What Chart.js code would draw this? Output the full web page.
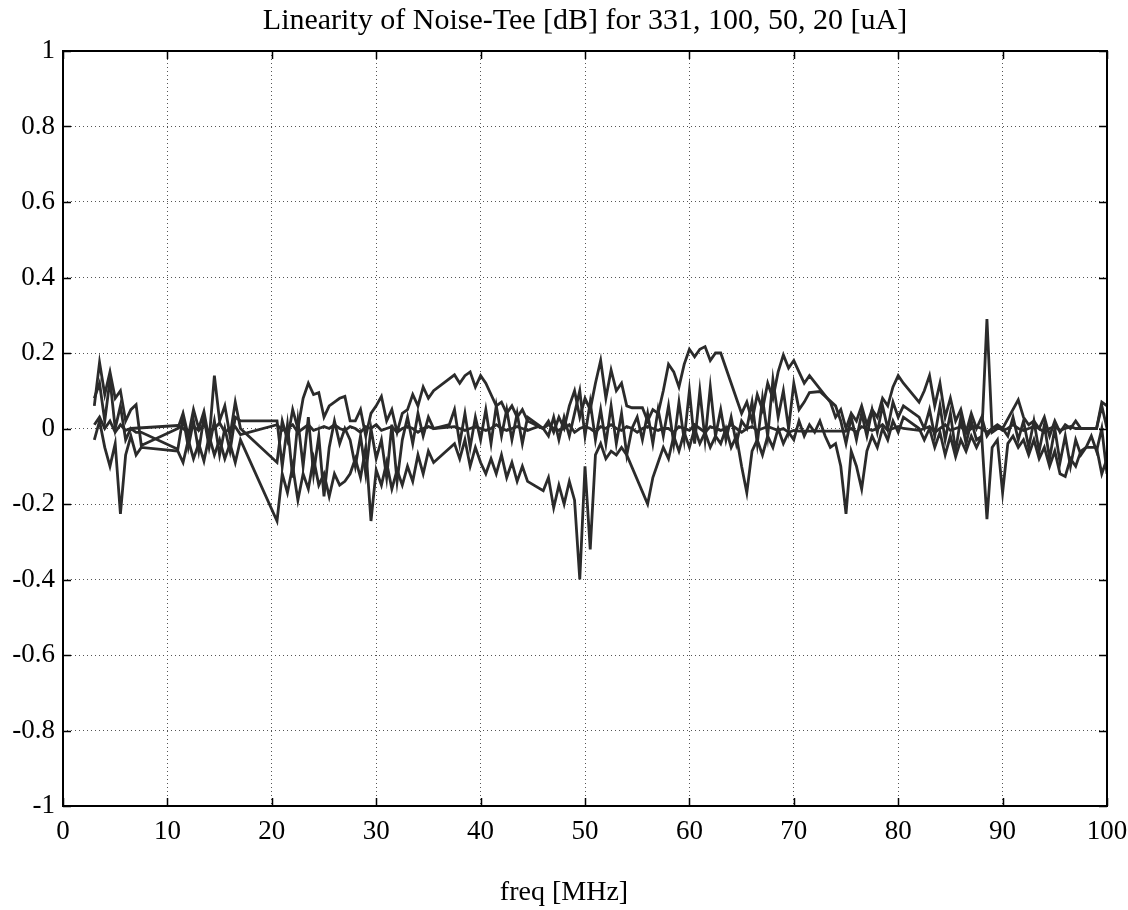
<!DOCTYPE html>
<html>
<head>
<meta charset="utf-8">
<title>Linearity of Noise-Tee</title>
<script src="https://cdn.jsdelivr.net/npm/chart.js@4/dist/chart.umd.min.js"></script>
<style>
  html, body { margin: 0; padding: 0; background: #fff; }
  #wrap { width: 1128px; height: 910px; position: relative; }
</style>
</head>
<body>
<div id="wrap"><canvas id="myChart"></canvas></div>
<script>
const titleText = 'Linearity of Noise-Tee [dB] for 331, 100, 50, 20 [uA]'
const xLabelText = 'freq [MHz]'

// frequency points [MHz], 5 MHz per row
const freq = [
  3, 3.5, 4, 4.5, 5, 5.5, 6, 6.5, 7, 7.5,
  8, 8.5, 9, 9.5, 10, 10.5, 11, 11.5, 12, 12.5,
  13, 13.5, 14, 14.5, 15, 15.5, 16, 16.5, 17, 17.5,
  18, 18.5, 19, 19.5, 20, 20.5, 21, 21.5, 22, 22.5,
  23, 23.5, 24, 24.5, 25, 25.5, 26, 26.5, 27, 27.5,
  28, 28.5, 29, 29.5, 30, 30.5, 31, 31.5, 32, 32.5,
  33, 33.5, 34, 34.5, 35, 35.5, 36, 36.5, 37, 37.5,
  38, 38.5, 39, 39.5, 40, 40.5, 41, 41.5, 42, 42.5,
  43, 43.5, 44, 44.5, 45, 45.5, 46, 46.5, 47, 47.5,
  48, 48.5, 49, 49.5, 50, 50.5, 51, 51.5, 52, 52.5,
  53, 53.5, 54, 54.5, 55, 55.5, 56, 56.5, 57, 57.5,
  58, 58.5, 59, 59.5, 60, 60.5, 61, 61.5, 62, 62.5,
  63, 63.5, 64, 64.5, 65, 65.5, 66, 66.5, 67, 67.5,
  68, 68.5, 69, 69.5, 70, 70.5, 71, 71.5, 72, 72.5,
  73, 73.5, 74, 74.5, 75, 75.5, 76, 76.5, 77, 77.5,
  78, 78.5, 79, 79.5, 80, 80.5, 81, 81.5, 82, 82.5,
  83, 83.5, 84, 84.5, 85, 85.5, 86, 86.5, 87, 87.5,
  88, 88.5, 89, 89.5, 90, 90.5, 91, 91.5, 92, 92.5,
  93, 93.5, 94, 94.5, 95, 95.5, 96, 96.5, 97, 97.5,
  98, 98.5, 99, 99.5, 100
]

// linearity [dB], one array per bias current (null = no sample, line spans it)
const lin331 = [
  0.01, 0.03, 0.0, 0.02, -0.01, 0.01, -0.005, 0.0, null, null,
  null, null, null, null, null, null, 0.008, 0.0, -0.01, 0.005,
  -0.005, 0.01, -0.01, 0.0, 0.015, -0.01, 0.0, 0.005, -0.016, null,
  null, null, null, null, null, 0.01, -0.005, 0.0, 0.01, -0.01,
  0.0, 0.01, -0.005, 0.0, 0.005, 0.0, 0.01, 0.0, -0.005, 0.005,
  0.0, -0.01, 0.005, 0.0, 0.01, -0.005, 0.0, 0.005, -0.01, 0.0,
  0.005, 0.0, -0.01, 0.0, 0.005, 0.0, null, null, null, 0.005,
  0.0, -0.005, 0.0, 0.005, 0.0, -0.005, 0.0, 0.01, 0.0, -0.005,
  0.0, 0.005, 0.0, -0.005, 0.0, 0.005, 0.0, 0.01, 0.0, -0.005,
  0.0, 0.01, -0.01, 0.0, 0.005, 0.0, -0.01, 0.005, 0.0, 0.01,
  0.0, -0.005, 0.005, 0.0, -0.01, 0.0, 0.005, 0.0, -0.005, 0.0,
  0.0, -0.01, 0.005, 0.0, -0.005, 0.01, 0.0, -0.01, 0.005, 0.0,
  -0.005, 0.0, 0.01, 0.0, -0.01, 0.0, 0.005, -0.005, 0.0, 0.005,
  0.0, -0.005, 0.0, -0.01, -0.005, -0.007, null, null, null, null,
  null, null, null, null, -0.007, 0.0, -0.01, 0.005, 0.0, -0.005,
  0.0, 0.01, -0.005, 0.0, 0.005, 0.0, null, null, -0.005, 0.0,
  0.005, -0.01, 0.0, 0.01, -0.005, 0.0, 0.005, -0.01, 0.0, 0.005,
  0.0, -0.01, 0.0, 0.005, -0.005, 0.0, 0.01, 0.0, -0.005, 0.0,
  0.005, 0.0, -0.01, 0.0, 0.005, -0.005, 0.0, 0.005, 0.0, 0.0,
  0.0, null, 0.0, 0.06, 0.0
]

const lin100 = [
  0.06, 0.175, 0.09, 0.15, 0.08, 0.1, 0.02, 0.05, 0.063, -0.045,
  null, null, null, null, null, null, 0.0, 0.04, -0.02, 0.05,
  0.0, 0.045, -0.03, 0.14, 0.02, 0.06, -0.02, 0.07, 0.0, null,
  null, null, null, null, null, -0.09, 0.02, -0.03, 0.05, 0.0,
  0.08, 0.12, 0.09, 0.095, 0.03, 0.06, 0.07, 0.08, 0.085, 0.02,
  0.02, 0.05, -0.02, 0.04, 0.06, 0.085, 0.02, 0.05, -0.01, 0.04,
  0.05, 0.09, 0.06, 0.11, 0.08, 0.1, null, null, null, 0.142,
  0.12, 0.14, 0.15, 0.11, 0.14, 0.12, 0.09, 0.06, 0.07, 0.04,
  0.06, 0.03, 0.05, 0.02, null, null, 0.0, 0.02, -0.01, 0.03,
  0.0, 0.06, 0.1, 0.03, 0.08, 0.05, 0.12, 0.18, 0.08, 0.155,
  0.1, 0.12, 0.06, 0.055, null, 0.055, 0.02, 0.05, 0.04, 0.1,
  0.17, 0.15, 0.11, 0.17, 0.21, 0.19, 0.21, 0.217, 0.18, 0.2,
  0.2, null, null, null, 0.04, 0.07, 0.02, 0.09, 0.05, 0.12,
  0.08, 0.15, 0.195, 0.16, 0.18, 0.15, 0.12, 0.14, null, null,
  null, 0.07, 0.03, 0.05, 0.0, 0.04, 0.02, 0.06, 0.01, 0.05,
  0.03, 0.08, 0.06, 0.11, 0.14, 0.12, null, null, 0.07, 0.1,
  0.14, 0.06, 0.12, 0.03, 0.08, 0.02, 0.05, -0.01, 0.04, 0.0,
  0.03, -0.02, 0.0, 0.01, 0.0, null, null, 0.076, 0.03, 0.01,
  0.02, 0.0, 0.03, -0.02, 0.02, -0.01, 0.01, 0.0, 0.02, 0.0,
  0.0, 0.0, 0.0, 0.07, 0.06
]

const lin50 = [
  -0.03, 0.02, -0.05, -0.1, -0.04, -0.226, -0.07, -0.02, -0.07, -0.05,
  null, null, null, null, null, null, -0.06, -0.09, -0.03, -0.08,
  -0.04, -0.086, -0.02, -0.07, -0.03, -0.08, -0.04, -0.09, -0.03, null,
  null, null, null, null, null, -0.245, -0.12, -0.17, -0.1, -0.19,
  -0.12, -0.16, -0.08, -0.15, -0.12, -0.18, -0.12, -0.15, -0.14, -0.12,
  -0.08, -0.13, -0.05, -0.245, -0.11, -0.15, -0.09, -0.16, -0.11, -0.15,
  -0.1, -0.14, -0.07, -0.12, -0.06, -0.09, null, null, null, -0.04,
  -0.08, -0.03, -0.1, -0.05, -0.09, -0.12, -0.08, -0.12, -0.07, -0.13,
  -0.09, -0.14, -0.1, -0.14, null, null, -0.165, -0.13, -0.21, -0.15,
  -0.2, -0.14, -0.19, -0.4, -0.1, -0.32, -0.07, -0.04, -0.08, -0.06,
  -0.07, -0.05, -0.07, null, null, null, -0.2, -0.13, -0.09, -0.05,
  -0.08, -0.02, -0.06, -0.01, -0.05, 0.0, -0.04, -0.01, -0.05, -0.02,
  -0.04, 0.0, -0.05, -0.02, -0.1, -0.17, -0.06, -0.03, -0.07, -0.02,
  -0.05, 0.0, -0.04, -0.01, -0.03, 0.02, -0.02, 0.01, -0.01, 0.02,
  -0.02, -0.05, -0.04, -0.1, -0.226, -0.06, -0.1, -0.16, -0.06, -0.02,
  -0.05, 0.0, -0.03, 0.02, -0.01, 0.03, null, null, 0.0, -0.03,
  0.0, -0.05, -0.01, -0.07, -0.02, -0.075, -0.03, -0.06, -0.02, -0.05,
  -0.02, -0.24, -0.05, -0.03, -0.17, -0.04, -0.02, -0.05, -0.03, -0.07,
  -0.03, -0.08, -0.05, -0.1, -0.06, -0.12, -0.127, -0.08, -0.1, -0.06,
  -0.05, -0.05, -0.05, -0.12, -0.08
]

const lin20 = [
  0.08, 0.12, 0.02, 0.13, 0.0, 0.06, -0.03, 0.0, -0.01, -0.01,
  null, null, null, null, null, null, -0.055, 0.03, -0.05, 0.02,
  -0.06, 0.03, -0.05, 0.02, -0.07, 0.0, -0.06, 0.03, 0.02, null,
  null, null, null, null, null, 0.02, -0.1, 0.01, -0.13, 0.02,
  -0.1, 0.03, -0.12, -0.02, -0.18, -0.05, 0.02, -0.04, 0.0, -0.03,
  -0.1, -0.02, -0.12, 0.0, -0.08, -0.03, -0.13, 0.01, -0.14, -0.03,
  0.03, -0.04, 0.04, -0.02, 0.03, 0.0, null, null, 0.01, 0.05,
  -0.04, 0.04, -0.05, 0.03, -0.03, 0.05, -0.04, 0.06, -0.02, 0.05,
  -0.03, 0.04, -0.04, 0.03, null, null, 0.0, -0.02, 0.03, -0.03,
  0.03, -0.02, 0.04, 0.1, -0.02, 0.07, -0.03, 0.05, -0.04, 0.06,
  -0.04, 0.04, -0.07, 0.0, 0.03, -0.03, 0.04, -0.04, 0.05, -0.02,
  0.06, -0.04, 0.07, -0.03, 0.1, -0.04, 0.1, -0.03, 0.11, -0.02,
  0.05, -0.03, 0.03, -0.04, 0.02, 0.0, 0.07, -0.04, 0.08, -0.02,
  0.13, 0.03, 0.1, 0.0, 0.12, 0.05, 0.07, 0.095, null, 0.098,
  null, null, 0.06, 0.02, -0.04, 0.03, -0.03, 0.04, -0.02, 0.05,
  -0.01, 0.06, 0.0, 0.07, 0.03, 0.06, null, null, 0.03, 0.0,
  0.05, -0.02, 0.06, -0.03, 0.04, -0.06, 0.03, -0.04, 0.02, -0.03,
  -0.02, 0.29, -0.01, 0.0, 0.0, -0.02, 0.03, -0.03, 0.02, -0.05,
  0.02, -0.06, 0.01, -0.08, 0.0, -0.09, -0.02, -0.1, -0.03, -0.07,
  -0.05, -0.02, -0.06, 0.0, -0.12
]

const seriesList = [lin331, lin100, lin50, lin20]
const seriesNames = ['331 uA', '100 uA', '50 uA', '20 uA']

const serif = "'Liberation Serif', 'Times New Roman', serif"

// box round the axes with inward ticks, plus title and xlabel, matlab style
const framePlugin = {
  id: 'frame',
  afterDraw(chart) {
    const { ctx, chartArea: a, scales } = chart
    ctx.save()
    ctx.strokeStyle = '#000'
    ctx.lineWidth = 1.5
    ctx.beginPath()
    scales.x.ticks.forEach(t => {
      const px = Math.round(scales.x.getPixelForValue(t.value)) + 0.5
      ctx.moveTo(px, a.bottom); ctx.lineTo(px, a.bottom - 8)
      ctx.moveTo(px, a.top); ctx.lineTo(px, a.top + 8)
    })
    scales.y.ticks.forEach(t => {
      const py = Math.round(scales.y.getPixelForValue(t.value)) + 0.5
      ctx.moveTo(a.left, py); ctx.lineTo(a.left + 8, py)
      ctx.moveTo(a.right, py); ctx.lineTo(a.right - 8, py)
    })
    ctx.stroke()
    ctx.lineWidth = 2
    ctx.strokeRect(a.left, a.top, a.right - a.left, a.bottom - a.top)

    ctx.fillStyle = '#000'
    ctx.textAlign = 'center'
    ctx.textBaseline = 'alphabetic'
    ctx.font = '30px ' + serif
    ctx.fillText(titleText, (a.left + a.right) / 2, a.top - 22)
    ctx.font = '28px ' + serif
    ctx.fillText(xLabelText, chart.width / 2, a.bottom + 94)
    ctx.restore()
  }
}

const ctx = document.querySelector('#myChart')

new Chart(ctx, {
  type: 'line',
  data: {
    datasets: seriesList.map((s, k) => ({
      label: seriesNames[k],
      data: freq.map((f, i) => ({ x: f, y: s[i] })),
      borderColor: '#2b2b2b',
      borderWidth: 2.8,
      pointRadius: 0,
      tension: 0,
      spanGaps: true,
      fill: false
    }))
  },
  options: {
    responsive: true,
    maintainAspectRatio: false,
    animation: false,
    layout: { padding: { top: 51, right: 21, left: 0, bottom: 0 } },
    plugins: {
      legend: { display: false },
      title: { display: false },
      tooltip: { enabled: false }
    },
    scales: {
      x: {
        type: 'linear',
        min: 0,
        max: 100,
        ticks: {
          stepSize: 10,
          color: '#000',
          padding: 10,
          maxRotation: 0,
          font: { family: serif, size: 27 }
        },
        grid: { color: '#555', lineWidth: 1, drawTicks: false },
        border: { display: false, dash: [1, 3] },
        afterFit: scale => {
          scale.height = 104
          scale.paddingLeft = 0
          scale.paddingRight = 0
        }
      },
      y: {
        min: -1,
        max: 1,
        ticks: {
          stepSize: 0.2,
          color: '#000',
          padding: 8,
          font: { family: serif, size: 27 },
          callback: v => String(Math.round(v * 10) / 10)
        },
        grid: { color: '#555', lineWidth: 1, drawTicks: false },
        border: { display: false, dash: [1, 3] },
        afterFit: scale => { scale.width = 63 }
      }
    }
  },
  plugins: [framePlugin]
})
</script>
</body>
</html>
